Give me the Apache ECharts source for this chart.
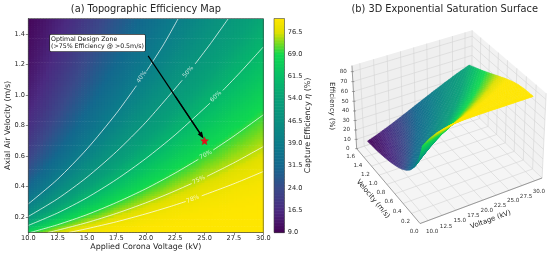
<!DOCTYPE html>
<html><head><meta charset="utf-8">
<style>html,body{margin:0;padding:0;background:#fff;overflow:hidden}#c{width:550px;height:256px}</style>
<script src="https://cdn.jsdelivr.net/npm/echarts@6/dist/echarts.min.js"></script>
</head><body><div id="c"></div>
<script>
const voltages = [10,11.25,12.5,13.75,15,17.5,20,22.5,25,27.5,30];
const velocities = [0.1,0.125,0.15,0.2,0.25,0.3,0.4,0.5,0.6,0.7,0.8,0.9,1.0,1.1,1.2,1.3,1.4,1.5];
const etaRows = [
 [69.6,74.2,77.2,79.0,80.0,80.8,81,81,81,81,81],
 [64.1,69.9,74.0,76.8,78.6,80.3,80.8,81,81,81,81],
 [59.1,65.5,70.5,74.2,76.7,79.5,80.6,80.9,81,81,81],
 [50.6,57.6,63.5,68.3,72.1,77.0,79.4,80.4,80.8,81,81],
 [44.0,51.0,57.2,62.6,67.1,73.7,77.5,79.5,80.4,80.8,80.9],
 [38.9,45.6,51.8,57.5,62.4,70.0,75.1,78.0,79.6,80.4,80.8],
 [31.4,37.4,43.3,48.9,54.1,62.9,69.6,74.2,77.2,79.0,80.0],
 [26.3,31.7,37.1,42.4,47.5,56.6,64.2,69.9,74.0,76.8,78.6],
 [22.6,27.5,32.4,37.3,42.1,51.2,59.1,65.5,70.5,74.1,76.7],
 [19.8,24.2,28.7,33.3,37.8,46.7,54.6,61.4,66.9,71.3,74.5],
 [17.6,21.6,25.8,30.0,34.3,42.7,50.6,57.6,63.5,68.3,72.1],
 [15.9,19.5,23.3,27.4,31.4,39.4,47.1,54.1,60.2,65.4,69.6],
 [14.4,17.8,21.4,25.1,28.9,36.5,44.0,51.0,57.2,62.6,67.1],
 [13.2,16.4,19.7,23.2,26.7,34.1,41.3,48.1,54.4,59.9,64.7],
 [12.2,15.1,18.2,21.5,24.9,31.9,38.9,45.6,51.8,57.5,62.4],
 [11.3,14.1,17.0,20.1,23.3,30.0,36.7,43.2,49.5,55.1,60.2],
 [10.6,13.1,16.0,18.9,21.9,28.3,34.8,41.1,47.2,52.9,58.0],
 [10.0,12.3,15.0,17.7,20.6,26.7,33.0,39.2,45.2,50.9,56.0]
];
const contour40 = [[10,.287],[12.5,.449],[15,.647],[17.5,.88],[19.2,1.06],null,[20.05,1.155],[21.5,1.328],[22.76,1.5]];
const contour50 = [[10,.205],[12.5,.321],[15,.462],[17.5,.629],[20,.821],[23.1,1.096],null,[24.2,1.203],[25.5,1.335],[27.03,1.5]];
const contour60 = [[10,.146],[12.5,.228],[15,.328],[17.5,.447],[20,.584],[22.5,.739],[25.46,.946],null,[26.55,1.029],[28,1.145],[30,1.314]];
const contour70 = [[10.17,.1],[12.5,.151],[15,.217],[17.5,.296],[20,.386],[22.5,.489],[24.47,.5785],null,[25.74,.64],[27.5,.731],[30,.87]];
const contour75 = [[11.66,.1],[12.5,.115],[15,.165],[17.5,.225],[20,.294],[22,.356],[23.9,.42],null,[25.2,.467],[27.5,.556],[30,.662]];
const contour78 = [[13.44,.1],[15,.125],[17.5,.17],[20,.222],[22,.268],[23.4,.303],null,[24.76,.34],[27.5,.419],[30,.499]];
const contourLabels = [[19.65,1.118,'40%',55],[23.6,1.15,'50%',50],[25.97,.99,'60%',45],[25.1,.608,'70%',28],[24.5,.444,'75%',25],[24,.318,'78%',20]];
const xTicks = [10,12.5,15,17.5,20,22.5,25,27.5,30];
const yTicks = [0.2,0.4,0.6,0.8,1.0,1.2,1.4];
const cbTicks = [9,16.5,24,31.5,39,46.5,54,61.5,69,76.5];
const zTicks3d = [0,10,20,30,40,50,60,70,80];
const vTicks3d = [0,0.2,0.4,0.6,0.8,1.0,1.2,1.4,1.6];
const cmapValues = [9,16.5,24,31.5,39,46.5,54,61.5,69,72.5,76.5,81];
const cmapColors = ['#440154','#4b2a80','#3a4a8a','#14688e','#0c7c8a','#0a8f80','#08a078','#07bd68','#10d850','#70da20','#e0e000','#ffe600'];

const lerp = echarts.color.lerp;
const cache={};
function colorOf(val){
  const key=Math.round(val*5);
  if(cache[key]) return cache[key];
  let i=0;
  while(i<cmapValues.length-2 && val>cmapValues[i+1]) i++;
  const f=Math.max(0,Math.min(1,(val-cmapValues[i])/(cmapValues[i+1]-cmapValues[i])));
  return cache[key]=lerp(f,[cmapColors[i],cmapColors[i+1]]);
}
function surfaceColor(z,V){
  const t=Math.max(0,Math.min(1,(V-13)/5));
  const boost=z>54?Math.min(5,(z-54)*0.6):0;
  return colorOf(z+t*boost);
}
function sampled(i,j,a,b){
  return (etaRows[j][i]*(1-a)+etaRows[j][i+1]*a)*(1-b)+(etaRows[j+1][i]*(1-a)+etaRows[j+1][i+1]*a)*b;
}
const mapCells = [];
for(let j=0;j<velocities.length-1;j++)for(let i=0;i<voltages.length-1;i++){
  const ns=Math.round((voltages[i+1]-voltages[i])*4), nt=Math.max(3,Math.round((velocities[j+1]-velocities[j])*70));
  for(let s=0;s<ns;s++)for(let t=0;t<nt;t++){
    const a0=s/ns,a1=(s+1)/ns,b0=t/nt,b1=(t+1)/nt;
    const V0=voltages[i]+(voltages[i+1]-voltages[i])*a0,V1=voltages[i]+(voltages[i+1]-voltages[i])*a1;
    const v0=velocities[j]+(velocities[j+1]-velocities[j])*b0,v1=velocities[j]+(velocities[j+1]-velocities[j])*b1;
    mapCells.push([V0,V1,v0,v1,sampled(i,j,(a0+a1)/2,(b0+b1)/2)]);
  }
}
// 3D projection: camera matrix solved from the box corners seen in the picture
const VMIN=8.57,VMAX=31.43,VELMAX=1.6,ZMAX=86;
const boxFit=[[0,0,0,420,223],[1,0,0,541.7,178.7],[0,1,0,356.7,149.7],[1,1,0,472,109.5],[1,0,1,546.7,93],[0,1,1,352,65],[1,1,1,471.7,31]];
function solveCamera(){
  const A=[],B=[];
  boxFit.forEach(([X,Y,Z,u,w])=>{
    A.push([X,Y,Z,1,0,0,0,0,-u*X,-u*Y,-u*Z]);B.push(u);
    A.push([0,0,0,0,X,Y,Z,1,-w*X,-w*Y,-w*Z]);B.push(w);
  });
  const n=11,N=[];
  for(let r=0;r<n;r++){N.push(new Array(n+1).fill(0));
    for(let c=0;c<n;c++)for(let k=0;k<A.length;k++)N[r][c]+=A[k][r]*A[k][c];
    for(let k=0;k<A.length;k++)N[r][n]+=A[k][r]*B[k];}
  for(let c=0;c<n;c++){let p=c;for(let r=c+1;r<n;r++)if(Math.abs(N[r][c])>Math.abs(N[p][c]))p=r;
    [N[c],N[p]]=[N[p],N[c]];
    for(let r=0;r<n;r++)if(r!==c){const f=N[r][c]/N[c][c];for(let k=c;k<=n;k++)N[r][k]-=f*N[c][k];}}
  return N.map((row,r)=>row[n]/row[r]);
}
const P=solveCamera();
function proj(V,vel,z){
  const X=(V-VMIN)/(VMAX-VMIN),Y=vel/VELMAX,Z=z/ZMAX;
  const d=P[8]*X+P[9]*Y+P[10]*Z+1;
  return [(P[0]*X+P[1]*Y+P[2]*Z+P[3])/d,(P[4]*X+P[5]*Y+P[6]*Z+P[7])/d];
}
function depth(V,vel,z){
  const X=(V-VMIN)/(VMAX-VMIN),Y=vel/VELMAX,Z=z/ZMAX;
  return -0.39*X-0.75*Y+0.38*Z;
}
const faces=[];
for(let j=0;j<velocities.length-1;j++)for(let i=0;i<voltages.length-1;i++){
  const ns=Math.round((voltages[i+1]-voltages[i])*2.4),nt=Math.max(3,Math.round((velocities[j+1]-velocities[j])*40));
  for(let s=0;s<ns;s++)for(let t=0;t<nt;t++){
    const a=[s/ns,(s+1)/ns],b=[t/nt,(t+1)/nt];
    const V=a.map(x=>voltages[i]+(voltages[i+1]-voltages[i])*x),vel=b.map(x=>velocities[j]+(velocities[j+1]-velocities[j])*x);
    const z00=sampled(i,j,a[0],b[0]),z10=sampled(i,j,a[1],b[0]),z11=sampled(i,j,a[1],b[1]),z01=sampled(i,j,a[0],b[1]);
    const pts=[proj(V[0],vel[0],z00),proj(V[1],vel[0],z10),proj(V[1],vel[1],z11),proj(V[0],vel[1],z01)];
    const zm=(z00+z10+z11+z01)/4,Vm=(V[0]+V[1])/2;
    faces.push({k:depth(Vm,(vel[0]+vel[1])/2,zm),pts,zm,Vm});
  }
}
faces.sort((p,q)=>p.k-q.k);
const faceData=faces.map((f,i)=>[i]);

function seg(a,b,color,w){return {type:'line',shape:{x1:a[0],y1:a[1],x2:b[0],y2:b[1]},style:{stroke:color,lineWidth:w},silent:true};}
function poly(points,fill){return {type:'polygon',shape:{points},style:{fill},silent:true};}
function txt(x,y,text,size,rot,color){return {type:'text',x,y,rotation:(rot||0)*Math.PI/180,style:{text,x:0,y:0,fill:color||'#333',fontSize:size,fontFamily:'DejaVu Sans',textAlign:'center',textVerticalAlign:'middle'},silent:true};}
function boxChildren(){
  const c=[];const gc='#d4d4d4';
  c.push(poly([proj(VMIN,0,0),proj(VMAX,0,0),proj(VMAX,VELMAX,0),proj(VMIN,VELMAX,0)],'#f5f5f5'));
  c.push(poly([proj(VMIN,VELMAX,0),proj(VMAX,VELMAX,0),proj(VMAX,VELMAX,ZMAX),proj(VMIN,VELMAX,ZMAX)],'#efefef'));
  c.push(poly([proj(VMAX,0,0),proj(VMAX,VELMAX,0),proj(VMAX,VELMAX,ZMAX),proj(VMAX,0,ZMAX)],'#f2f2f2'));
  xTicks.forEach(V=>{
    c.push(seg(proj(V,0,0),proj(V,VELMAX,0),gc,.6));
    c.push(seg(proj(V,VELMAX,0),proj(V,VELMAX,ZMAX),gc,.6));
    const p=proj(V,0,0);
    c.push(txt(p[0]+4,p[1]+10.7,V.toFixed(1),5.6));
  });
  vTicks3d.forEach(v=>{
    c.push(seg(proj(VMIN,v,0),proj(VMAX,v,0),gc,.6));
    c.push(seg(proj(VMAX,v,0),proj(VMAX,v,ZMAX),gc,.6));
    const p=proj(VMIN,v,0);
    c.push(txt(p[0]-6,p[1]+8,v.toFixed(1),5.6));
  });
  zTicks3d.forEach(z=>{
    c.push(seg(proj(VMIN,VELMAX,z),proj(VMAX,VELMAX,z),gc,.6));
    c.push(seg(proj(VMAX,VELMAX,z),proj(VMAX,0,z),gc,.6));
    const p=proj(VMIN,VELMAX,z);
    c.push(seg([p[0]-1.5,p[1]],[p[0]+1.5,p[1]],'#555',.5));
    c.push(txt(p[0]-9,p[1],String(z),5.6));
  });
  c.push(seg(proj(VMIN,0,0),proj(VMAX,0,0),'#777',.7));
  c.push(seg(proj(VMIN,0,0),proj(VMIN,VELMAX,0),'#777',.7));
  c.push(seg(proj(VMIN,VELMAX,0),proj(VMIN,VELMAX,ZMAX),'#777',.7));
  c.push(txt(490.7,219.7,'Voltage (kV)',7,20,'#222'));
  c.push(txt(373,199,'Velocity (m/s)',7,-50,'#222'));
  c.push(txt(332,106,'Efficiency (%)',7,-90,'#222'));
  return c;
}
const TEXT='#262626',FONT='DejaVu Sans';
const STAR='path://M12 1 L15.1 8.6 L23.4 9.2 L17 14.5 L19 22.6 L12 18.2 L5 22.6 L7 14.5 L0.6 9.2 L8.9 8.6 Z';
function contourSeries(points){
  return {type:'line',xAxisIndex:0,yAxisIndex:0,showSymbol:false,symbol:'none',smooth:0.25,connectNulls:false,silent:true,z:5,
    data:points.map(p=>p===null?[null,null]:p),lineStyle:{color:'rgba(255,255,255,0.72)',width:1}};
}
const axisTextStyle={fontSize:6.6,color:TEXT,fontFamily:FONT};
const option={
  animation:false,
  backgroundColor:'#fff',
  textStyle:{fontFamily:FONT},
  title:[
    {text:'(a) Topographic Efficiency Map',left:145.9,top:4.5,padding:0,textAlign:'center',textStyle:{fontSize:9.8,fontWeight:'normal',color:TEXT,fontFamily:FONT}},
    {text:'(b) 3D Exponential Saturation Surface',left:444.7,top:4.5,padding:0,textAlign:'center',textStyle:{fontSize:9.8,fontWeight:'normal',color:TEXT,fontFamily:FONT}}
  ],
  grid:[
    {left:28.3,top:18.5,width:235,height:214,show:false,containLabel:false,outerBoundsMode:'none'},
    {left:274,top:18.5,width:10.5,height:214,show:false,containLabel:false,outerBoundsMode:'none'}
  ],
  xAxis:[
    {gridIndex:0,type:'value',min:10,max:30,splitLine:{show:false},
     axisLine:{lineStyle:{color:'#333',width:.7}},
     axisTick:{length:2.5,customValues:xTicks,lineStyle:{color:'#333',width:.6}},
     axisLabel:{customValues:xTicks,formatter:v=>v.toFixed(1),margin:2.5,...axisTextStyle,showMinLabel:true,showMaxLabel:true},
     name:'Applied Corona Voltage (kV)',nameLocation:'center',nameGap:10.5,nameMoveOverlap:false,nameTextStyle:{fontSize:7.9,color:TEXT,fontFamily:FONT}},
    {gridIndex:1,type:'value',min:0,max:1,show:false}
  ],
  yAxis:[
    {gridIndex:0,type:'value',min:0.1,max:1.5,splitLine:{show:false},
     axisLine:{lineStyle:{color:'#333',width:.7}},
     axisTick:{length:2.5,customValues:yTicks,lineStyle:{color:'#333',width:.6}},
     axisLabel:{customValues:yTicks,formatter:v=>v.toFixed(1),margin:3.3,...axisTextStyle},
     name:'Axial Air Velocity (m/s)',nameLocation:'center',nameGap:16.3,nameMoveOverlap:false,nameTextStyle:{fontSize:7.9,color:TEXT,fontFamily:FONT}},
    {gridIndex:1,type:'value',position:'right',min:9,max:81,splitLine:{show:false},
     axisLine:{show:false},
     axisTick:{length:2.5,customValues:cbTicks,lineStyle:{color:'#333',width:.6}},
     axisLabel:{customValues:cbTicks,formatter:v=>v.toFixed(1),margin:3.2,...axisTextStyle},
     name:'Capture Efficiency {i|η} (%)',nameLocation:'center',nameRotate:90,nameGap:19.5,nameMoveOverlap:false,nameTextStyle:{fontSize:7.9,color:TEXT,fontFamily:FONT,rich:{i:{fontSize:7.9,fontStyle:'italic',color:TEXT,fontFamily:FONT}}}}
  ],
  series:[
    {type:'custom',xAxisIndex:0,yAxisIndex:0,data:mapCells,progressive:0,silent:true,clip:true,z:1,encode:{x:[0,1],y:[2,3]},
     renderItem:(p,api)=>{
       const a=api.coord([api.value(0),api.value(3)]),b=api.coord([api.value(1),api.value(2)]);
       return {type:'rect',shape:{x:a[0],y:a[1],width:b[0]-a[0]+.7,height:b[1]-a[1]+.7},style:{fill:colorOf(api.value(4))},silent:true};
     }},
    contourSeries(contour40),contourSeries(contour50),contourSeries(contour60),contourSeries(contour70),contourSeries(contour75),contourSeries(contour78),
    {type:'scatter',xAxisIndex:0,yAxisIndex:0,symbolSize:0,silent:true,z:6,itemStyle:{opacity:1},
     data:contourLabels.map(l=>({value:[l[0],l[1]],label:{show:true,position:'inside',formatter:l[2],rotate:l[3],fontSize:6,color:'rgba(255,255,255,0.72)',fontFamily:FONT}}))},
    {type:'line',xAxisIndex:0,yAxisIndex:0,symbol:'none',silent:true,z:7,data:[[20.2,1.256],[24.76,.732]],lineStyle:{color:'#000',width:1.2},
     markLine:{silent:true,animation:false,symbol:['none','triangle'],symbolSize:[5,7],label:{show:false},lineStyle:{color:'#000',width:1.2,type:'solid'},data:[[{coord:[22.5,.992]},{coord:[24.76,.732]}]]}},
    {type:'scatter',xAxisIndex:0,yAxisIndex:0,symbol:STAR,symbolSize:8,silent:true,z:8,data:[[25,.7]],itemStyle:{opacity:1,color:'#e8101a',borderColor:'#c01018',borderWidth:.3}},
    {type:'scatter',xAxisIndex:0,yAxisIndex:0,symbolSize:0,silent:true,z:9,data:[[11.85,1.34]],itemStyle:{opacity:1},
     label:{show:true,opacity:1,position:'right',distance:0,formatter:'Optimal Design Zone\n(>75% Efficiency @ >0.5m/s)',fontSize:6.25,lineHeight:7.3,color:'#111',fontFamily:FONT,align:'left',
       backgroundColor:'#fff',borderColor:'#222',borderWidth:.6,borderRadius:1,padding:[1,1,1,1]}},
    {type:'custom',xAxisIndex:1,yAxisIndex:1,silent:true,progressive:0,z:2,
     data:(()=>{const d=[];for(let q=9;q<81;q+=.5)d.push([q]);return d;})(),encode:{y:0},
     renderItem:(p,api)=>{
       const q=api.value(0),a=api.coord([0,q+.5]),b=api.coord([1,q]);
       return {type:'rect',shape:{x:a[0],y:a[1],width:b[0]-a[0],height:b[1]-a[1]+.6},style:{fill:colorOf(q+.25)},silent:true};
     }},
    {type:'custom',coordinateSystem:'none',silent:true,z:1,data:[[0]],
     renderItem:()=>({type:'group',silent:true,children:boxChildren()})},
    {type:'custom',coordinateSystem:'none',silent:true,progressive:0,z:3,data:faceData,
     renderItem:(p,api)=>{
       const f=faces[api.value(0)],col=surfaceColor(f.zm,f.Vm);
       return {type:'polygon',shape:{points:f.pts},style:{fill:col,stroke:col,lineWidth:.4},silent:true};
     }}
  ],
  graphic:[
    {type:'rect',silent:true,z:100,shape:{x:28.3,y:18.5,width:235,height:214},style:{fill:'none',stroke:'#444',lineWidth:.6}},
    {type:'rect',silent:true,z:100,shape:{x:274,y:18.5,width:10.5,height:214},style:{fill:'none',stroke:'#444',lineWidth:.6}}
  ]
};
echarts.init(document.getElementById('c'),null,{renderer:'canvas'}).setOption(option);
</script>
</body></html>
